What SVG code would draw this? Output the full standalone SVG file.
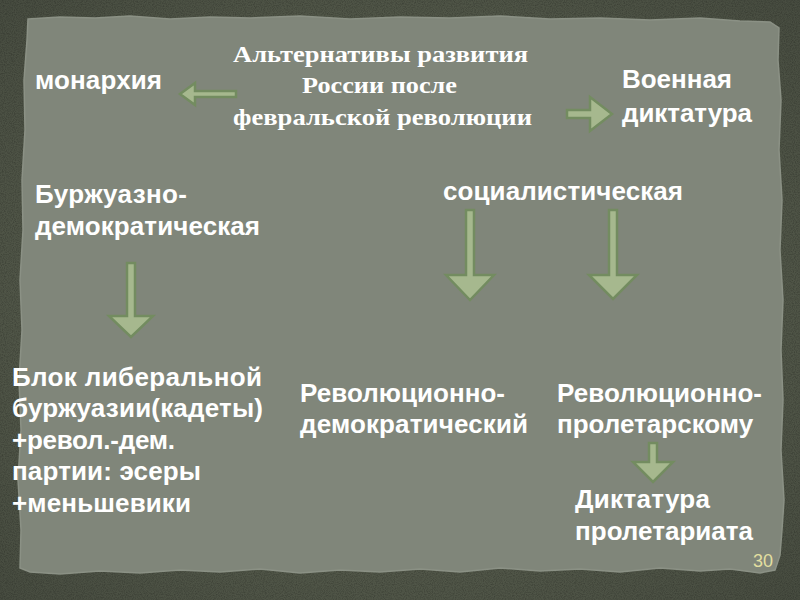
<svg xmlns="http://www.w3.org/2000/svg" width="800" height="600" viewBox="0 0 800 600">
<defs>
<radialGradient id="bg" cx="50%" cy="50%" r="70%">
<stop offset="0" stop-color="#636957"/>
<stop offset="1" stop-color="#474c40"/>
</radialGradient>
<filter id="noise" x="0" y="0" width="100%" height="100%">
<feTurbulence type="fractalNoise" baseFrequency="0.9" numOctaves="2" seed="3" result="n"/>
<feColorMatrix in="n" type="matrix" values="0 0 0 0 0  0 0 0 0 0  0 0 0 0 0  0 0 0 -1.2 0.75" result="a"/>
<feComposite in="a" in2="SourceGraphic" operator="in"/>
</filter>
<style>
.body{font-family:"Liberation Sans",Arial,sans-serif;font-weight:bold;font-size:26px;fill:#ffffff}
.title{font-family:"Liberation Serif","Times New Roman",serif;font-weight:bold;font-size:23px;fill:#ffffff;text-anchor:middle}
.num{font-family:"Liberation Sans",Arial,sans-serif;font-size:18px;fill:#e2dfa0}
.arrow{fill:#a6b88e;stroke:#738c60;stroke-width:2.5;stroke-linejoin:miter}
</style>
</defs>
<rect width="800" height="600" fill="url(#bg)"/>
<rect width="800" height="600" fill="#2e3228" opacity="0.35" filter="url(#noise)"/>
<path id="paper" d="M28,19 L60,17 L95,18 L130,16 L170,19 L210,17 L250,18 L300,16 L350,19 L400,17 L450,18 L500,16 L550,19 L600,18 L650,20 L700,18 L740,21 L770,22 L779,28 L778,60 L781,100 L779,150 L782,200 L780,250 L783,300 L781,350 L783,400 L781,450 L784,500 L782,530 L780,555 L775,570 L760,573 L730,569 L700,571 L660,568 L620,572 L580,569 L540,571 L500,568 L460,572 L420,569 L380,572 L340,570 L300,573 L260,569 L220,572 L180,570 L140,573 L100,571 L60,574 L30,572 L20,568 L21,530 L18,480 L21,430 L19,380 L22,330 L20,280 L23,230 L22,180 L25,130 L24,80 L27,40 Z" fill="#80867a" stroke="#8b9185" stroke-width="1.5"/>
<g id="connectors">
<polygon class="arrow" points="236,91 195,91 195,83 180,94 195,105 195,97 236,97"/>
<polygon class="arrow" points="567,110 590,110 590,97 612,114 590,131 590,118 567,118"/>
<polygon class="arrow" points="127,263 135,263 135,316 153,316 131,337 109,316 127,316"/>
<polygon class="arrow" points="466,210 474,210 474,275 494,275 470,300 446,275 466,275"/>
<polygon class="arrow" points="609,210 617,210 617,275 637,275 613,299 589,275 609,275"/>
<polygon class="arrow" points="649,443 657,443 657,462 673,462 653,482 633,462 649,462"/>
</g>
<g id="title"><text class="title"><tspan x="380.5" y="62" textLength="295" lengthAdjust="spacingAndGlyphs">Альтернативы развития</tspan><tspan x="379.5" y="93" textLength="155" lengthAdjust="spacingAndGlyphs">России после</tspan><tspan x="382.5" y="125" textLength="299" lengthAdjust="spacingAndGlyphs">февральской революции</tspan></text></g>
<g id="monarchy"><text class="body" x="35" y="89" textLength="127">монархия</text></g>
<g id="military"><text class="body"><tspan x="622" y="88" textLength="110">Военная</tspan><tspan x="622" y="122" textLength="130">диктатура</tspan></text></g>
<g id="bourgeois"><text class="body"><tspan x="35" y="203" textLength="152">Буржуазно-</tspan><tspan x="35" y="235" textLength="225">демократическая</tspan></text></g>
<g id="socialist"><text class="body" x="443" y="200" textLength="240">социалистическая</text></g>
<g id="bloc"><text class="body"><tspan x="12" y="386" textLength="250">Блок либеральной</tspan><tspan x="12" y="417" textLength="251">буржуазии(кадеты)</tspan><tspan x="12" y="449" textLength="163">+револ.-дем.</tspan><tspan x="12" y="480" textLength="189">партии: эсеры</tspan><tspan x="12" y="512" textLength="179">+меньшевики</tspan></text></g>
<g id="revdem"><text class="body"><tspan x="300" y="402" textLength="205">Революционно-</tspan><tspan x="300" y="433" textLength="228">демократический</tspan></text></g>
<g id="revprol"><text class="body"><tspan x="557" y="402" textLength="205">Революционно-</tspan><tspan x="557" y="433">пролетарскому</tspan></text></g>
<g id="dictatorship"><text class="body"><tspan x="575" y="508" textLength="135">Диктатура</tspan><tspan x="575" y="540" textLength="178">пролетариата</tspan></text></g>
<text class="num" x="753" y="567">30</text>
</svg>
